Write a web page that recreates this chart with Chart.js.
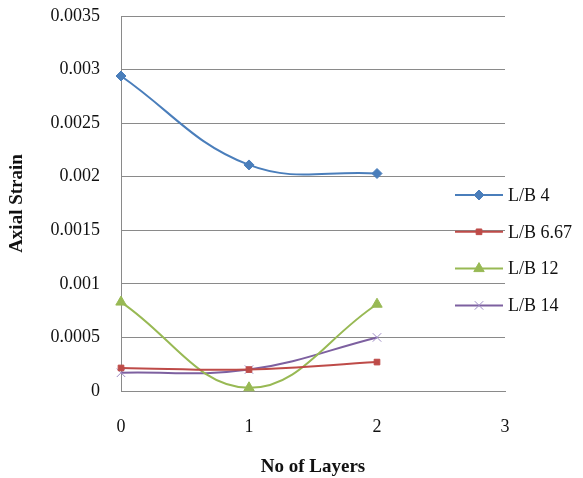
<!DOCTYPE html>
<html>
<head>
<meta charset="utf-8">
<script src="https://cdn.jsdelivr.net/npm/chart.js@4.4.0/dist/chart.umd.min.js"></script>
<style>
  html, body { margin: 0; padding: 0; background: #fff; }
  #wrap { width: 583px; height: 478px; }
</style>
</head>
<body>
<div id="wrap"><canvas id="strainChart" width="583" height="478"></canvas></div>
<script>
// ── Data ────────────────────────────────────────────────────────────────────
const layers      = [0, 1, 2];
const xTickLabels = ['0', '1', '2', '3'];
const yTickLabels = ['0', '0.0005', '0.001', '0.0015', '0.002', '0.0025', '0.003', '0.0035'];

const seriesNames = ['L/B 4', 'L/B 6.67', 'L/B 12', 'L/B 14'];
const lb4   = [0.00294, 0.00211, 0.00203];
const lb667 = [0.000215, 0.0002, 0.00027];
const lb12  = [0.00083, 0.00003, 0.00081];
const lb14  = [0.00017, 0.0002, 0.0005];

// ── Styles ──────────────────────────────────────────────────────────────────
const FONT = "'Liberation Serif', 'Times New Roman', serif";
const styles = [
  { color: '#4A7EBB', pointStyle: 'rectRot',  radius: 5, pointBorderWidth: 1 },
  { color: '#BE4B48', pointStyle: 'rect',     radius: 4, pointBorderWidth: 1 },
  { color: '#98B954', pointStyle: 'triangle', radius: 6, pointBorderWidth: 1 },
  { color: '#7D60A0', pointStyle: 'crossRot', radius: 6, pointBorderWidth: 1, pointColor: '#9D8BC4' },
];

function toPoints(values) {
  return values.map((v, i) => ({ x: layers[i], y: v }));
}

// Legend drawn over the right side of the plot, like the original
const sideLegend = {
  id: 'sideLegend',
  afterDatasetsDraw(chart) {
    const ctx = chart.ctx;
    const x0 = 455, x1 = 503, top = 195, step = 36.8;
    ctx.save();
    chart.data.datasets.forEach((ds, i) => {
      const y = top + i * step;
      ctx.strokeStyle = ds.borderColor;
      ctx.lineWidth = ds.borderWidth;
      ctx.beginPath();
      ctx.moveTo(x0, y);
      ctx.lineTo(x1, y);
      ctx.stroke();
      ctx.fillStyle = ds.pointBackgroundColor;
      ctx.strokeStyle = ds.pointBorderColor;
      ctx.lineWidth = ds.pointBorderWidth;
      Chart.helpers.drawPoint(ctx, {
        pointStyle: ds.pointStyle, radius: ds.pointRadius,
        borderWidth: ds.pointBorderWidth, rotation: 0,
      }, (x0 + x1) / 2, y);
      ctx.fillStyle = '#111';
      ctx.font = '18px ' + FONT;
      ctx.textAlign = 'left';
      ctx.textBaseline = 'middle';
      ctx.fillText(ds.label, x1 + 5, y + 1);
    });
    ctx.restore();
  },
};

const ctx = document.getElementById('strainChart').getContext('2d');
new Chart(ctx, {
  type: 'line',
  data: {
    datasets: [lb4, lb667, lb12, lb14].map((vals, i) => ({
      label:               seriesNames[i],
      data:                toPoints(vals),
      borderColor:         styles[i].color,
      backgroundColor:     styles[i].color,
      borderWidth:         2,
      pointStyle:          styles[i].pointStyle,
      pointRadius:         styles[i].radius,
      pointHoverRadius:    styles[i].radius,
      pointBackgroundColor: styles[i].pointColor || styles[i].color,
      pointBorderColor:    styles[i].pointColor || styles[i].color,
      pointBorderWidth:    styles[i].pointBorderWidth,
      tension:             0.4,
      fill:                false,
      clip:                false,
    })),
  },
  options: {
    responsive:  false,
    animation:   false,
    layout: { padding: { left: 6, top: 16, right: 78, bottom: 0 } },
    plugins: {
      legend:  { display: false },
      tooltip: { enabled: false },
    },
    scales: {
      x: {
        type: 'linear',
        min: 0, max: 3,
        grid:   { display: false },
        border: { display: true, color: '#8a8a8a', width: 1 },
        ticks: {
          stepSize: 1,
          padding: 17,
          color: '#111',
          font: { family: FONT, size: 18 },
          callback: (v) => xTickLabels[v] ?? '',
        },
        title: {
          display: true,
          text: 'No of Layers',
          color: '#111',
          padding: 0,
          font: { family: FONT, size: 19, weight: 'bold' },
        },
        afterFit(scale) { scale.height = 87; },
      },
      y: {
        min: 0, max: 0.0035,
        grid:   { color: '#8a8a8a', lineWidth: 1, drawTicks: false },
        border: { display: true, color: '#8a8a8a', width: 1 },
        ticks: {
          stepSize: 0.0005,
          padding: 21,
          color: '#111',
          font: { family: FONT, size: 18 },
          callback: (v, i) => yTickLabels[i] ?? '',
        },
        title: {
          display: true,
          text: 'Axial Strain',
          color: '#111',
          padding: 0,
          font: { family: FONT, size: 19, weight: 'bold' },
        },
        afterFit(scale) {
          scale.width = 115;
          // tick padding would otherwise be added above the top label
          scale.paddingTop = 0;
          scale.paddingBottom = 0;
        },
      },
    },
  },
  plugins: [sideLegend],
});
</script>
</body>
</html>
